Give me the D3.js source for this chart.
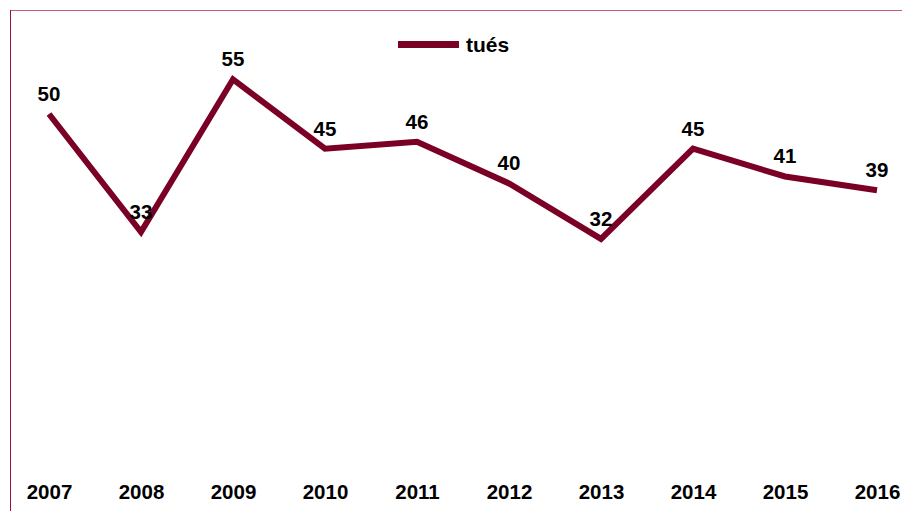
<!DOCTYPE html>
<html><head><meta charset="utf-8">
<script src="https://cdn.jsdelivr.net/npm/d3@7"></script>
<style>body{margin:0;background:#fff}svg{display:block}</style>
</head><body>
<script>
const years = ["2007","2008","2009","2010","2011","2012","2013","2014","2015","2016"];
const tues = [50,33,55,45,46,40,32,45,41,39];
const seriesName = "tués";

const W=902,H=511;
const svg=d3.select("body").append("svg").attr("width",W).attr("height",H);
const font="'Liberation Sans', Arial, sans-serif";
const color="#7b0025";

// frame
svg.append("line").attr("x1",10).attr("x2",W).attr("y1",10.5).attr("y2",10.5).attr("stroke","#c05a7a").attr("stroke-width",1);
svg.append("line").attr("x1",10.5).attr("x2",10.5).attr("y1",10).attr("y2",H).attr("stroke","#9a1040").attr("stroke-width",1);

const x=d3.scalePoint().domain(years).range([49,877]);
const y=d3.scaleLinear().domain([0,60]).range([461,44.6]);

const line=d3.line().x((d,i)=>x(years[i])).y(d=>y(d));
svg.append("path").datum(tues).attr("d",line).attr("fill","none")
  .attr("stroke",color).attr("stroke-width",6).attr("stroke-linejoin","miter");

svg.selectAll(".lbl").data(tues).enter().append("text")
  .attr("x",(d,i)=>x(years[i])).attr("y",d=>y(d)-13)
  .attr("text-anchor","middle").attr("font-family",font).attr("font-weight","bold")
  .attr("font-size",20.5).attr("fill","#000").text(d=>d);

const xAxis=d3.axisBottom(x).tickSize(0).tickPadding(0);
const gx=svg.append("g").attr("transform","translate(0,484.5)").call(xAxis);
gx.select(".domain").remove();
gx.selectAll("text").attr("font-family",font).attr("font-weight","bold").attr("font-size",20.5).attr("fill","#000").attr("dy","0.71em");

// legend
svg.append("line").attr("x1",398).attr("x2",459).attr("y1",44.5).attr("y2",44.5).attr("stroke",color).attr("stroke-width",7);
svg.append("text").attr("x",466).attr("y",52).attr("font-family",font).attr("font-weight","bold").attr("font-size",21).attr("fill","#000").text(seriesName);
</script>
</body></html>
